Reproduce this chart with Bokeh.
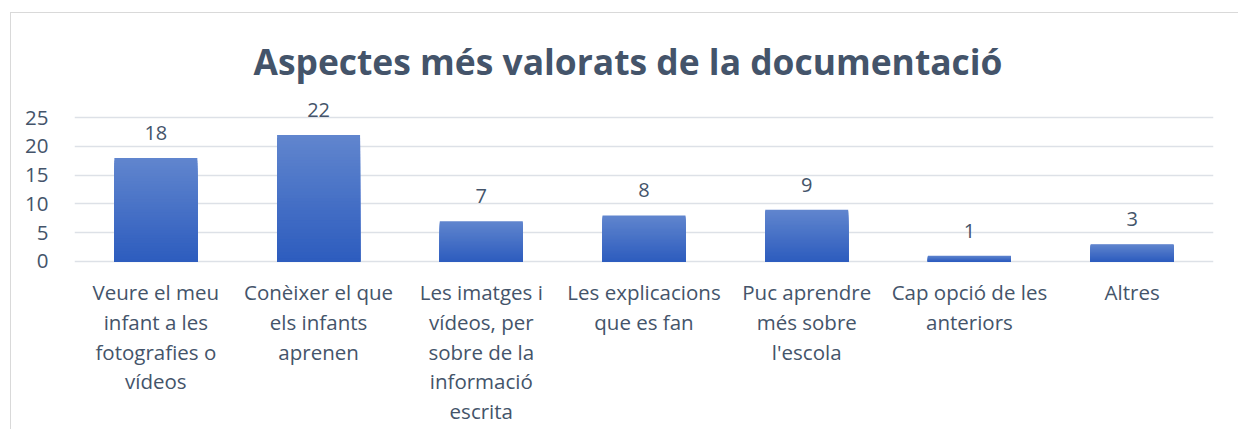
from bokeh.plotting import figure
from bokeh.models import ColumnDataSource, FactorRange, Range1d, FixedTicker
from bokeh.embed import file_html
from bokeh.resources import INLINE
from bokeh.core.properties import value

title = "Aspectes més valorats de la documentació"
categories = [
    "Veure el meu infant a les fotografies o vídeos",
    "Conèixer el que els infants aprenen",
    "Les imatges i vídeos, per sobre de la informació escrita",
    "Les explicacions que es fan",
    "Puc aprendre més sobre l'escola",
    "Cap opció de les anteriors",
    "Altres",
]
label_lines = [
    "Veure el meu\ninfant a les\nfotografies o\nvídeos",
    "Conèixer el que\nels infants\naprenen",
    "Les imatges i\nvídeos, per\nsobre de la\ninformació\nescrita",
    "Les explicacions\nque es fan",
    "Puc aprendre\nmés sobre\nl'escola",
    "Cap opció de les\nanteriors",
    "Altres",
]
values = [18, 22, 7, 8, 9, 1, 3]
y_ticks = [0, 5, 10, 15, 20, 25]

TEXT = "#44546A"
FONT = "Open Sans"

p = figure(
    x_range=FactorRange(*categories, range_padding=0),
    y_range=Range1d(-29.37, 28.5),
    width=1228, height=417,
    output_backend="svg", toolbar_location=None,
    min_border_left=63, min_border_right=26,
    min_border_top=84, min_border_bottom=0,
)
p.margin = (12, 0, 0, 10)
p.styles = {"border-left": "1px solid #D9D9D9", "border-top": "1px solid #D9D9D9"}
p.outline_line_color = None
p.background_fill_color = "white"
p.border_fill_color = "white"

# gradient bars: overlapping bars, each shorter one painted on top
N = 40
top_c = (0x61, 0x86, 0xCE)
bot_c = (0x2D, 0x5C, 0xBE)
xs, tops, cols = [], [], []
for k in range(N):
    t = 1 - (k + 0.5) / N
    rgb = tuple(int(round(bot_c[i] + (top_c[i] - bot_c[i]) * t)) for i in range(3))
    for c, v in zip(categories, values):
        xs.append(c)
        tops.append(v * (N - k) / N)
        cols.append("#%02X%02X%02X" % rgb)
src = ColumnDataSource(dict(x=xs, top=tops, color=cols))
p.vbar(x="x", bottom=0, top="top", width=0.51, source=src,
       fill_color="color", line_color=None)

lab = ColumnDataSource(dict(x=categories, y=values, t=[str(v) for v in values]))
p.text(x="x", y="y", text="t", source=lab, text_align="center",
       text_baseline="bottom", y_offset=-18, text_color=TEXT,
       text_font=value(FONT), text_font_size="20px")

cat_src = ColumnDataSource(dict(x=categories, y=[0] * len(categories), t=label_lines))
p.text(x="x", y="y", text="t", source=cat_src, text_align="center",
       text_baseline="top", y_offset=17, text_color=TEXT,
       text_font=value(FONT), text_font_size="20.5px", text_line_height=1.055)

p.title.text = title
p.title.align = "left"
p.title.text_font = FONT
p.title.text_font_style = "bold"
p.title.text_font_size = "35.4px"
p.title.text_color = TEXT
p.title.offset = 179
p.title.standoff = 25

p.xgrid.grid_line_color = None
p.ygrid.grid_line_color = "#DDE1E7"
p.ygrid.grid_line_width = 1.5
p.yaxis.ticker = FixedTicker(ticks=y_ticks)

p.yaxis.axis_line_color = None
p.yaxis.major_tick_line_color = None
p.yaxis.minor_tick_line_color = None
p.yaxis.major_label_text_font = FONT
p.yaxis.major_label_text_font_size = "20.5px"
p.yaxis.major_label_text_color = TEXT
p.yaxis.major_label_standoff = 20

p.xaxis.visible = False

open("out.html", "w").write(file_html(p, INLINE))
